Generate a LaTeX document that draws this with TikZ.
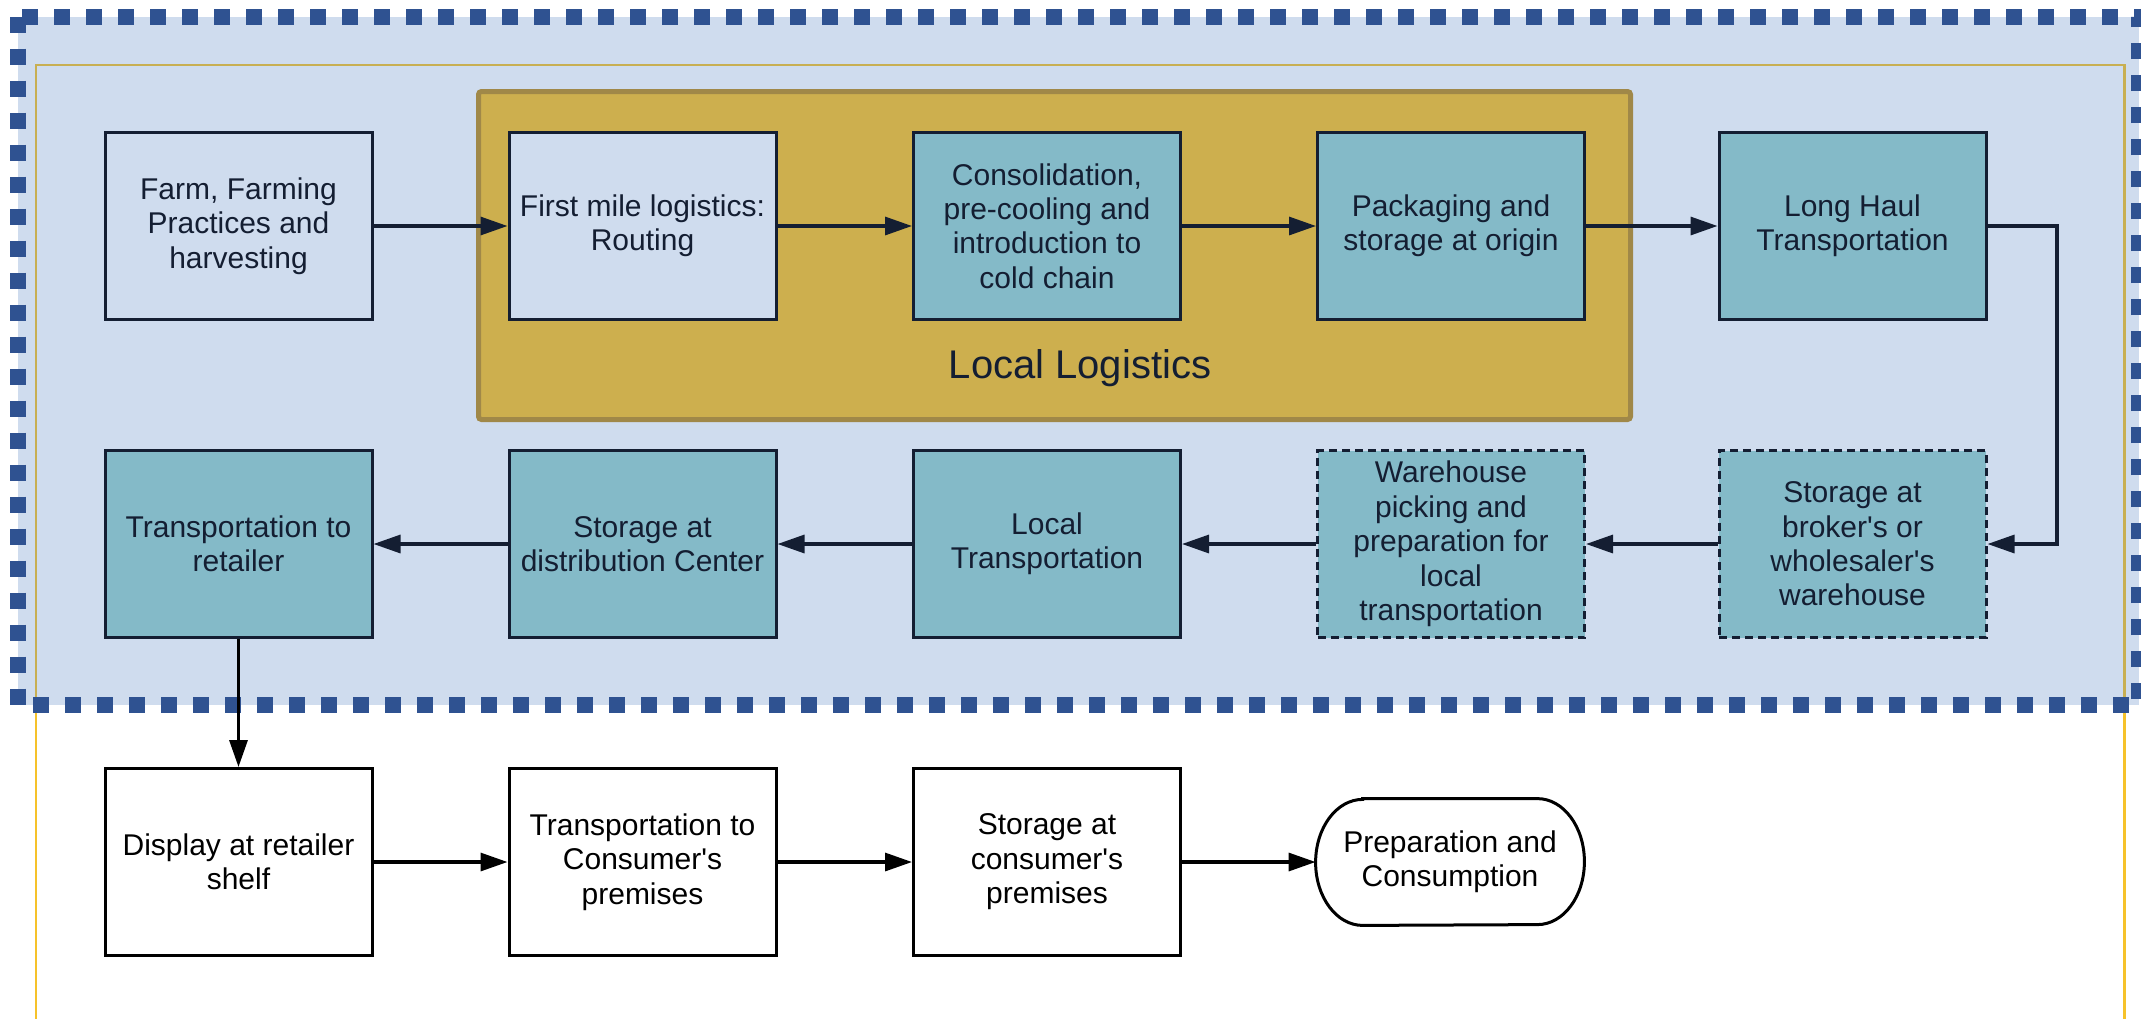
\documentclass[tikz,border=0pt]{standalone}
\usepackage{fontspec}
\setmainfont{Liberation Sans}
\usetikzlibrary{arrows.meta}

\definecolor{bgblue}{RGB}{207,220,238}
\definecolor{veil}{RGB}{77,125,192}
\definecolor{frameblue}{RGB}{47,82,145}
\definecolor{tealfill}{RGB}{132,186,200}
\definecolor{goldfill}{RGB}{205,175,78}
\definecolor{golddark}{RGB}{160,136,72}
\definecolor{ink}{RGB}{20,30,50}
\definecolor{amber}{RGB}{246,194,42}

\newcommand{\apos}{\textquotesingle}

\tikzset{
  stage/.style={draw=ink, line width=1.5pt, minimum width=133.5pt, minimum height=93.5pt,
    inner sep=0pt, align=center, text=ink, font=\fontsize{15pt}{17.2pt}\selectfont},
  lightstage/.style={stage, fill=bgblue},
  coldstage/.style={stage, fill=tealfill},
  loosestage/.style={coldstage, dash pattern=on 4pt off 2.5pt},
  retailstage/.style={stage, draw=black, text=black, fill=white},
  prepstage/.style={minimum width=134pt, minimum height=63pt, inner sep=0pt, align=center,
    text=black, font=\fontsize{15pt}{17.2pt}\selectfont},
  flow/.style={draw=ink, line width=1.6pt, -{Triangle[length=13.5pt,width=9pt]}},
  retailflow/.style={flow, draw=black},
}

\begin{document}
\begin{tikzpicture}[x=0.5pt, y=-0.5pt]
  \useasboundingbox (0,0) rectangle (2141,1018);

  % thin outer frame of the whole chain
  \draw[amber, line width=1.4pt] (36,65) rectangle (2124.5,1060);

  % upstream region: translucent blue with a heavy dashed edge
  \fill[veil, opacity=.27] (17.5,16.5) rectangle (2139,705);
  \draw[frameblue, line width=8pt, dash pattern=on 8pt off 8pt] (17.5,16.5) rectangle (2139,705);

  % local logistics group
  \draw[golddark, fill=goldfill, line width=2.5pt, rounded corners=1.5pt] (478.5,91.5) rectangle (1630.5,419.5);
  \node[anchor=base, text=ink, font=\fontsize{20pt}{24pt}\selectfont] (loclabel) at (1080,378) {Local Logistics};

  % first row
  \node[lightstage] (farm)  at (238.5,226) {Farm, Farming\\Practices and\\harvesting};
  \node[lightstage] (first) at (642.5,226) {First mile logistics:\\Routing};
  \node[coldstage]  (cons)  at (1047,226)  {Consolidation,\\pre-cooling and\\introduction to\\cold chain};
  \node[coldstage]  (pack)  at (1451,226)  {Packaging and\\storage at origin};
  \node[coldstage]  (haul)  at (1852.5,226) {Long Haul\\Transportation};

  % second row
  \node[coldstage]  (toret)  at (238.5,544) {Transportation to\\retailer};
  \node[coldstage]  (dc)     at (642.5,544) {Storage at\\distribution Center};
  \node[coldstage]  (localt) at (1047,544)  {Local\\Transportation};
  \node[loosestage] (pick)   at (1451,544)  {Warehouse\\picking and\\preparation for\\local\\transportation};
  \node[loosestage] (broker) at (1852.5,544) {Storage at\\broker\apos s or\\wholesaler\apos s\\warehouse};

  % third row
  \node[retailstage] (shelf)  at (238.5,862) {Display at retailer\\shelf};
  \node[retailstage] (tocons) at (642.5,862) {Transportation to\\Consumer\apos s\\premises};
  \node[retailstage] (home)   at (1047,862)  {Storage at\\consumer\apos s\\premises};
  \node[prepstage]   (prep)   at (1450,862) {Preparation and\\Consumption};
  \draw[black, line width=1.5pt]
    ([xshift=23.5pt]prep.north west) -- ([xshift=-23.5pt]prep.north east)
    arc[start angle=90, end angle=-90, x radius=23.5pt, y radius=31.5pt]
    -- ([xshift=23.5pt]prep.south west)
    arc[start angle=270, end angle=90, x radius=23.5pt, y radius=31.5pt] -- cycle;

  % connectors
  \draw[flow] (farm.east) -- (first.west);
  \draw[flow] (first.east) -- (cons.west);
  \draw[flow] (cons.east) -- (pack.west);
  \draw[flow] (pack.east) -- (haul.west);
  \coordinate (turn) at (2057,226);
  \draw[flow] (haul.east) -- (turn) |- (broker.east);
  \draw[flow] (broker.west) -- (pick.east);
  \draw[flow] (pick.west) -- (localt.east);
  \draw[flow] (localt.west) -- (dc.east);
  \draw[flow] (dc.west) -- (toret.east);
  \draw[retailflow] (toret.south) -- (shelf.north);
  \draw[retailflow] (shelf.east) -- (tocons.west);
  \draw[retailflow] (tocons.east) -- (home.west);
  \draw[retailflow] (home.east) -- (prep.west);
\end{tikzpicture}
\end{document}
